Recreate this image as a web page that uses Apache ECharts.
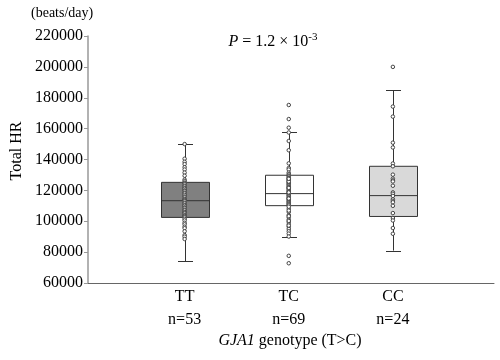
<!DOCTYPE html>
<html>
<head>
<meta charset="utf-8">
<script src="https://cdn.jsdelivr.net/npm/echarts@6/dist/echarts.min.js"></script>
<style>html,body{margin:0;padding:0;background:#fff;}#c{width:500px;height:360px;}</style>
</head>
<body>
<div id="c"></div>
<script>
const categories = ['TT', 'TC', 'CC'];
const counts = [53, 69, 24];
// box stats: [min whisker, Q1, median, Q3, max whisker]
const boxTT = [74000, 102500, 113300, 125200, 150300];
const boxTC = [90100, 110100, 117900, 129800, 157600];
const boxCC = [81000, 103100, 116600, 135600, 184900];
const boxFills = ['#808080', '#ffffff', '#d9d9d9'];
const pointsTT = [150000, 140500, 138500, 137000, 135000, 133500, 131500, 129500, 127000, 126000,
  125000, 124500, 124000, 123000, 122500, 121500, 121000, 120000, 119500, 118500,
  118000, 117000, 116000, 115500, 114500, 114000, 113500, 113000, 112000, 111500,
  110500, 110000, 109000, 108500, 107500, 107000, 106000, 105500, 105000, 104000,
  103500, 103000, 102500,
  101500, 100500, 99000, 98000, 96500, 95500, 93500, 91000, 90000, 88500];
const pointsTC = [175300, 166200, 160600, 157500, 152000, 146000, 137500, 134500, 133500, 131500, 130500,
  129600, 129100, 128300, 127900, 127200, 126600, 126100, 125300, 124800, 124200,
  123700, 123100, 122400, 122000, 121300, 120900, 120200, 119600, 119100, 118400,
  118000, 117300, 116700, 116200, 115400, 115000, 114300, 113800, 113100, 112600,
  112000, 111400, 110900, 110300, 125700, 121600, 118700, 114700, 127500,
  108000, 106000, 104000, 102500, 101000, 99500, 98000, 96500, 95000, 93500, 92000, 90100,
  77600, 72800, 109400, 106900, 103300, 100200, 97200];
const pointsCC = [200000, 174300, 167800, 150900, 147800, 137400, 135600, 130200, 127600, 126500,
  125800, 123000, 118700, 117800, 116400, 114200, 113200, 112300, 110000, 105300,
  102100, 100500, 95600, 91900];
const yTicks = { min: 60000, max: 220000, interval: 20000 };

const serif = '"Liberation Serif", "DejaVu Serif", serif';
const boxes = [boxTT, boxTC, boxCC];
const pts = [pointsTT, pointsTC, pointsCC];
const xLabels = [''].concat(categories.map((c, i) => c + '\nn=' + counts[i])).concat(['']);
const scatterData = [];
pts.forEach((arr, i) => arr.forEach(v => scatterData.push([i + 1, v])));
const boxData = boxes.map((b, i) => [i + 1].concat(b));

const BOX_W = 48, CAP_W = 15;
function renderBox(params, api) {
  const x = api.value(0);
  const pMin = api.coord([x, api.value(1)]);
  const pQ1 = api.coord([x, api.value(2)]);
  const pMed = api.coord([x, api.value(3)]);
  const pQ3 = api.coord([x, api.value(4)]);
  const pMax = api.coord([x, api.value(5)]);
  const cx = Math.round(pMed[0]) + 0.5;
  const stroke = { stroke: '#333', lineWidth: 1, fill: null };
  return {
    type: 'group',
    children: [
      { type: 'line', shape: { x1: cx, y1: pQ3[1], x2: cx, y2: pMax[1] }, style: stroke },
      { type: 'line', shape: { x1: cx, y1: pQ1[1], x2: cx, y2: pMin[1] }, style: stroke },
      { type: 'line', shape: { x1: cx - CAP_W / 2, y1: Math.round(pMax[1]) + 0.5, x2: cx + CAP_W / 2, y2: Math.round(pMax[1]) + 0.5 }, style: stroke },
      { type: 'line', shape: { x1: cx - CAP_W / 2, y1: Math.round(pMin[1]) + 0.5, x2: cx + CAP_W / 2, y2: Math.round(pMin[1]) + 0.5 }, style: stroke },
      { type: 'rect', shape: { x: cx - BOX_W / 2, y: pQ3[1], width: BOX_W, height: pQ1[1] - pQ3[1] },
        style: { fill: boxFills[params.dataIndex], stroke: '#333', lineWidth: 1 } },
      { type: 'line', shape: { x1: cx - BOX_W / 2, y1: pMed[1], x2: cx + BOX_W / 2, y2: pMed[1] }, style: stroke }
    ]
  };
}

const chart = echarts.init(document.getElementById('c'), null, { renderer: 'canvas' });
chart.setOption({
  animation: false,
  backgroundColor: '#fff',
  grid: [
    { left: 88, right: 6, top: 36, bottom: 77 },
    { left: 80.5, right: 1.5, top: 36, bottom: 77 }
  ],
  xAxis: [
    { gridIndex: 0, type: 'value', min: 0, max: 1,
      axisLine: { show: true, onZero: false, lineStyle: { color: '#666', width: 1 } },
      axisTick: { show: false }, axisLabel: { show: false }, splitLine: { show: false } },
    { gridIndex: 1, type: 'category', boundaryGap: false, data: xLabels,
      axisLine: { show: false }, axisTick: { show: false }, splitLine: { show: false },
      axisLabel: { interval: 0, color: '#000', fontFamily: serif, fontSize: 16, lineHeight: 23, margin: 2 } }
  ],
  yAxis: [
    { gridIndex: 0, type: 'value', min: yTicks.min, max: yTicks.max, interval: yTicks.interval,
      axisLine: { show: true, lineStyle: { color: '#999', width: 1.5 } },
      axisTick: { show: true, length: 4, lineStyle: { color: '#999' } },
      splitLine: { show: false },
      axisLabel: { color: '#000', fontFamily: serif, fontSize: 16, margin: 5, formatter: v => String(v) } },
    { gridIndex: 1, type: 'value', min: yTicks.min, max: yTicks.max, show: false, splitLine: { show: false } }
  ],
  series: [
    { type: 'custom', xAxisIndex: 1, yAxisIndex: 1, renderItem: renderBox, data: boxData,
      encode: { x: 0, y: [1, 2, 3, 4, 5] }, z: 2 },
    { type: 'scatter', xAxisIndex: 1, yAxisIndex: 1, symbol: 'circle', symbolSize: 3.5, z: 5,
      itemStyle: { color: '#fff', borderColor: '#444', borderWidth: 1, opacity: 1 },
      data: scatterData }
  ],
  graphic: [
    { type: 'text', left: 31, top: 6, style: { text: '(beats/day)', font: '14px ' + serif, fill: '#000' } },
    { type: 'text', x: 17, y: 151, rotation: Math.PI / 2,
      style: { text: 'Total HR', font: '16px ' + serif, fill: '#000', align: 'center', verticalAlign: 'middle' } },
    { type: 'text', x: 273, y: 42,
      style: { text: '{i|P} = 1.2 × 10{s|-3}', align: 'center', verticalAlign: 'middle', fill: '#000', font: '16px ' + serif,
        rich: { i: { fontStyle: 'italic', fontFamily: serif, fontSize: 16 }, s: { fontFamily: serif, fontSize: 11, padding: [0, 0, 9, 0] } } } },
    { type: 'text', x: 290, y: 341,
      style: { text: '{i|GJA1} genotype (T>C)', align: 'center', verticalAlign: 'middle', fill: '#000', font: '16px ' + serif,
        rich: { i: { fontStyle: 'italic', fontFamily: serif, fontSize: 16 } } } }
  ]
});
</script>
</body>
</html>
